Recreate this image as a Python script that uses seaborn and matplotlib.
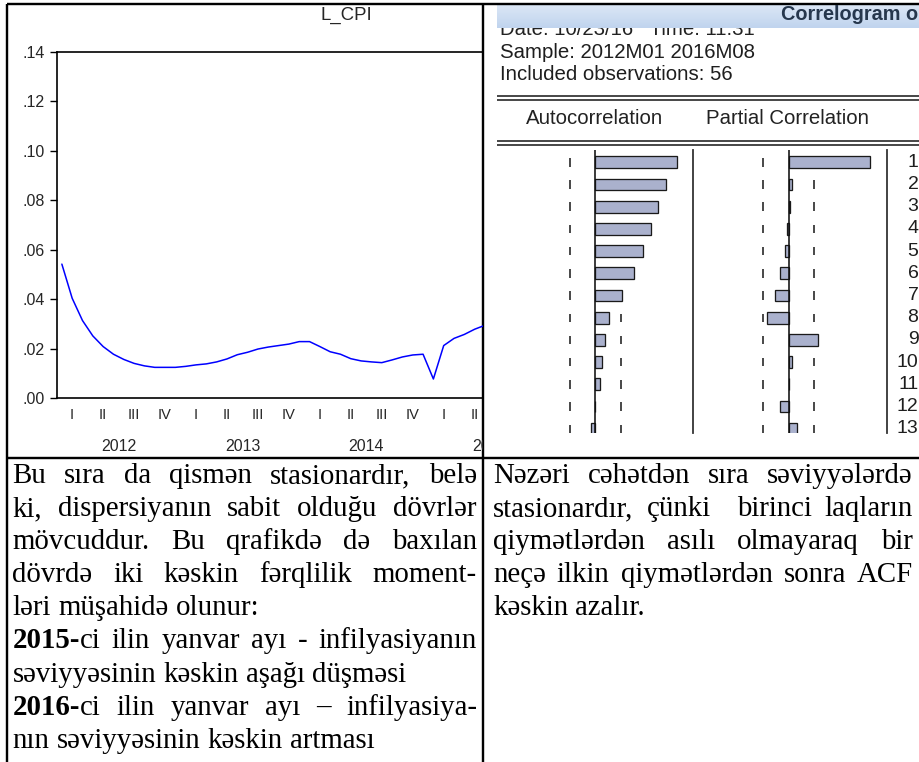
import matplotlib
matplotlib.use("Agg")
import matplotlib.pyplot as plt
import matplotlib.transforms as mtransforms
from matplotlib.patches import Rectangle
from matplotlib.colors import LinearSegmentedColormap
from matplotlib.ticker import FuncFormatter
import numpy as np
import seaborn as sns

# ---- data ----
# L_CPI, monthly, 2012M01 .. 2015M06 (the part visible in the cell)
months = [f"{y}M{m:02d}" for y in (2012, 2013, 2014, 2015) for m in range(1, 13)][:42]
l_cpi = [0.0542, 0.0404, 0.0314, 0.0252, 0.0209, 0.0178, 0.0157, 0.0141, 0.0131, 0.0125, 0.0125, 0.0125,
         0.0129, 0.0135, 0.0139, 0.0147, 0.0159, 0.0176, 0.0186, 0.0199, 0.0207, 0.0213, 0.0219, 0.0229,
         0.0229, 0.0209, 0.0188, 0.0178, 0.0160, 0.0151, 0.0147, 0.0144, 0.0155, 0.0167, 0.0175, 0.0178,
         0.0078, 0.0213, 0.0242, 0.0258, 0.0279, 0.0295]
quarter_labels = ["I", "II", "III", "IV"] * 4
year_labels = ["2012", "2013", "2014", "2015"]

# correlogram
lags = [str(i) for i in range(1, 14)]
acf = [0.856, 0.747, 0.660, 0.586, 0.498, 0.411, 0.284, 0.140, 0.105, 0.070, 0.053, 0.0, -0.042]
pacf = [0.856, 0.039, 0.015, -0.015, -0.035, -0.088, -0.140, -0.228, 0.305, 0.039, 0.0, -0.088, 0.091]
conf_bound = 0.267

left_text = [
    ("Bu sıra da qismən stasionardır, belə", True),
    ("ki, dispersiyanın sabit olduğu dövrlər", True),
    ("mövcuddur. Bu qrafikdə də baxılan", True),
    ("dövrdə iki kəskin fərqlilik moment-", True),
    ("ləri müşahidə olunur:", False),
    ("**2015-**ci ilin yanvar ayı - infilyasiyanın", True),
    ("səviyyəsinin kəskin aşağı düşməsi", False),
    ("**2016-**ci ilin yanvar ayı – infilyasiya-", True),
    ("nın səviyyəsinin kəskin artması", False),
]
right_text = [
    ("Nəzəri cəhətdən sıra səviyyələrdə", True),
    ("stasionardır, çünki  birinci laqların", True),
    ("qiymətlərdən asılı olmayaraq bir", True),
    ("neçə ilkin qiymətlərdən sonra ACF", True),
    ("kəskin azalır.", False),
]

# ---- style ----
sns.set_style("white")
SANS = ["Liberation Sans", "DejaVu Sans"]
SERIF = ["Liberation Serif", "DejaVu Serif"]
plt.rcParams["font.family"] = SANS

W, H = 920, 762
PT = 0.72  # px -> pt at dpi 100
fig = plt.figure(figsize=(W / 100, H / 100), dpi=100)


def rect(x0, y0, x1, y1):
    return [x0 / W, 1 - y1 / H, (x1 - x0) / W, (y1 - y0) / H]


# page canvas in pixel units
canvas = fig.add_axes([0, 0, 1, 1], zorder=0)
canvas.set_xlim(0, W)
canvas.set_ylim(H, 0)
canvas.axis("off")

# ---- left cell: EViews line graph ----
ax = fig.add_axes(rect(56.7, 51.7, 483.5, 398.3), zorder=1)
ax.patch.set_alpha(0)
sns.lineplot(x=np.arange(len(l_cpi)) + 0.5, y=l_cpi, ax=ax, color="#0000ff", linewidth=1.1)
ax.set_xlim(0, (483.5 - 56.7) / 10.32)
ax.set_ylim(0, 0.14)
ax.set_yticks(np.arange(0, 0.141, 0.02))
ax.yaxis.set_major_formatter(FuncFormatter(lambda v, p: f"{v:.2f}"[1:]))
ax.set_xticks(np.arange(0, 42, 3))
ax.set_xticks(np.arange(0, 42), minor=True)
ax.set_xticklabels([])
ax.set_xlabel("")
ax.set_ylabel("")
ax.tick_params(axis="x", which="major", direction="out", length=8 * PT, width=1, color="black")
ax.tick_params(axis="x", which="minor", direction="out", length=3.5 * PT, width=1, color="black")
ax.tick_params(axis="y", direction="out", length=7 * PT, width=1, pad=3.5, labelsize=11.5,
               color="black", left=True)
for s in ["left", "top", "bottom"]:
    ax.spines[s].set_color("black")
    ax.spines[s].set_linewidth(1.2)
ax.spines["right"].set_visible(False)

clip_left = Rectangle((0, 0), 483.5 / W, 1, transform=fig.transFigure)
xt = mtransforms.blended_transform_factory(ax.transData, ax.transAxes)
for q in range(14):
    t = ax.text(1.5 + 3 * q, -0.048, quarter_labels[q], transform=xt, ha="center", va="center",
                fontsize=10.5, clip_on=True)
    t.set_clip_path(clip_left)
for i, yl in enumerate(year_labels):
    t = ax.text(6 + 12 * i, -0.1405, yl, transform=xt, ha="center", va="center",
                fontsize=11.5, clip_on=True)
    t.set_clip_path(clip_left)
canvas.text(346, 15, "L_CPI", ha="center", va="center", fontsize=13.4)

# ---- right cell: correlogram window ----
canvas.text(500, 35, "Date: 10/23/16   Time: 11:31", va="baseline", fontsize=14.7, color="#222222", zorder=1)
grad = np.linspace(0, 1, 40).reshape(-1, 1)
canvas.imshow(grad, extent=[497, W, 28, 4], aspect="auto", zorder=2,
              cmap=LinearSegmentedColormap.from_list("hdr", ["#dce7f6", "#c0d4ee"]))
canvas.set_xlim(0, W)
canvas.set_ylim(H, 0)
canvas.text(918, 14, "Correlogram o", ha="right", fontweight="bold", color="#26374d", fontsize=14.3,
            va="center", zorder=3)
canvas.text(500, 58.3, "Sample: 2012M01 2016M08", va="baseline", fontsize=14.7, color="#1e1e1e")
canvas.text(500, 80.5, "Included observations: 56", va="baseline", fontsize=14.7, color="#1e1e1e")
canvas.hlines([95.8, 99.8], 497, W, color="#3a3a3a", lw=1.3 * PT * 1.4)
canvas.text(595, 118, "Autocorrelation", ha="center", va="center", fontsize=14.7, color="#222222")
canvas.text(788, 118, "Partial Correlation", ha="center", va="center", fontsize=14.7, color="#222222")
canvas.hlines([140.8, 144.6], 497, W, color="#3a3a3a", lw=1.3 * PT * 1.4)

bar_color = "#aab1cd"
panels = [(acf, rect(497, 150, 692.7, 433), (-1.035, 1.025)),
          (pacf, rect(692.7, 150, 886.7, 433), (-1.01, 1.03))]
pos = np.arange(len(lags))
for vals, r, xl in panels:
    a = fig.add_axes(r, zorder=1)
    a.patch.set_alpha(0)
    for b in (-conf_bound, conf_bound):
        a.vlines(np.full(len(lags), b), pos - 0.19, pos + 0.19, color="#111111", lw=1.5 * PT, zorder=0.5)
    sns.barplot(x=vals, y=lags, orient="h", ax=a, color=bar_color, saturation=1,
                edgecolor="#1a1a1a", linewidth=1.3 * PT, width=0.53, errorbar=None)
    a.axvline(0, color="#111111", lw=1.6 * PT, zorder=3)
    a.set_xlim(*xl)
    a.set_ylim(12.19, -0.554)
    a.set_xticks([])
    a.set_yticks([])
    a.set_xlabel("")
    a.set_ylabel("")
    for s in ["left", "top", "bottom"]:
        a.spines[s].set_visible(False)
    a.spines["right"].set_color("#333333")
    a.spines["right"].set_linewidth(1.8 * PT)
    pacf_ax = a

clip_bars = Rectangle((0, 1 - 433 / H), 1, 1, transform=fig.transFigure)
lt = mtransforms.blended_transform_factory(canvas.transData, pacf_ax.transData)
for i, lg in enumerate(lags):
    t = pacf_ax.text(918.5, i, lg, transform=lt, ha="right", va="center", fontsize=14, color="#1e1e1e",
                     clip_on=True)
    t.set_clip_path(clip_bars)

# ---- table borders ----
canvas.hlines([4, 457.5], 7.3, W, color="black", lw=2.4 * PT)
canvas.vlines([7.3, 483.5], 4, H, color="black", lw=2.4 * PT)

# ---- justified text below ----
renderer = fig.canvas.get_renderer()
FS = 20.8


def width_of(s, weight):
    if not s:
        return 0.0
    t = canvas.text(0, 0, s, fontsize=FS, family=SERIF, weight=weight)
    w = t.get_window_extent(renderer).width
    t.remove()
    return w


space_w = width_of("n n", "normal") - width_of("nn", "normal")


def runs_of(token):
    if token.startswith("**"):
        k = token.index("**", 2)
        return [(token[2:k], "bold"), (token[k + 2:], "normal")]
    return [(token, "normal")]


def draw_par(lines, x0, x1, y0, step):
    for i, (line, justify) in enumerate(lines):
        y = y0 + i * step
        tokens = [runs_of(tk) for tk in line.split(" ")]
        widths = [[width_of(s, w) for s, w in rs] for rs in tokens]
        total = sum(sum(ws) for ws in widths)
        gap = (x1 - x0 - total) / (len(tokens) - 1) if justify else space_w
        x = x0
        for rs, ws in zip(tokens, widths):
            for (s, w), wd in zip(rs, ws):
                if s:
                    canvas.text(x, y, s, fontsize=FS, family=SERIF, weight=w, va="baseline", color="black")
                x += wd
            x += gap


draw_par(left_text, 12.5, 477, 483, 33.1)
draw_par(right_text, 493, 913, 483, 33.1)

fig.savefig("out.png", dpi=100)
